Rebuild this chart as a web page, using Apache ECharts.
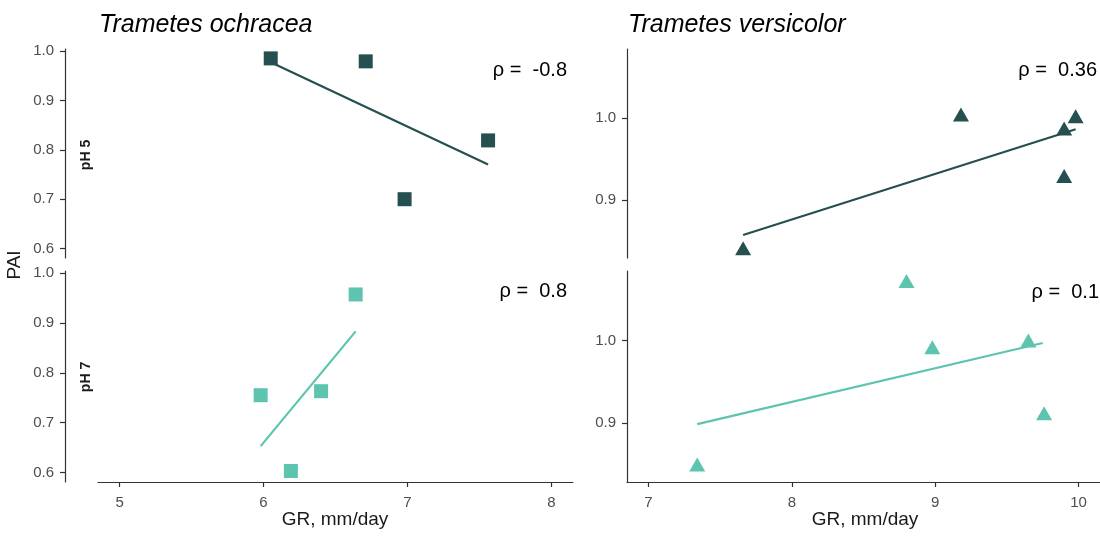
<!DOCTYPE html>
<html>
<head>
<meta charset="utf-8">
<script src="https://cdn.jsdelivr.net/npm/echarts@6/dist/echarts.min.js"></script>
<style>
  html, body { margin: 0; padding: 0; background: #fff; }
  #chart { width: 1100px; height: 536px; }
</style>
</head>
<body>
<div id="chart"></div>
<script>
// T. ochracea, GR vs PAI
const ochraceaGR5 = [6.05, 6.71, 6.98, 7.56];
const ochraceaPAI5 = [0.985, 0.979, 0.700, 0.819];
const ochraceaFit5 = [[6.05, 0.977], [7.56, 0.770]];
const ochraceaGR7 = [5.98, 6.19, 6.40, 6.64];
const ochraceaPAI7 = [0.755, 0.603, 0.763, 0.957];
const ochraceaFit7 = [[5.98, 0.653], [6.64, 0.883]];

// T. versicolor
const versicolorGR5 = [7.66, 9.18, 9.90, 9.98, 9.90];
const versicolorPAI5 = [0.841, 1.004, 0.987, 1.002, 0.929];
const versicolorFit5 = [[7.66, 0.857], [9.98, 0.986]];
const versicolorGR7 = [7.34, 8.80, 8.98, 9.65, 9.76];
const versicolorPAI7 = [0.850, 1.072, 0.992, 1.000, 0.912];
const versicolorFit7 = [[7.34, 0.899], [9.75, 0.997]];

const rhoLabels = ["ρ =  -0.8", "ρ =  0.8", "ρ =  0.36", "ρ =  0.1"];
const leftXTicks = [5, 6, 7, 8];
const rightXTicks = [7, 8, 9, 10];
const leftYTicks = [0.6, 0.7, 0.8, 0.9, 1.0];
const rightYTicks = [0.9, 1.0];

const dark = "#264f4f";
const teal = "#5cc4af";
const font = "Liberation Sans, Arial, sans-serif";

const chart = echarts.init(document.getElementById("chart"));

const zip = (xs, ys) => xs.map((x, i) => [x, ys[i]]);

function xAxis(idx, min, max, ticks, show) {
  return {
    type: "value", gridIndex: idx, min, max, show,
    axisLine: { show: true, onZero: false, lineStyle: { color: "#333", width: 1.2 } },
    axisTick: { show: true, length: 5, customValues: ticks, lineStyle: { color: "#333", width: 1.2 } },
    axisLabel: { customValues: ticks, color: "#4d4d4d", fontSize: 15, fontFamily: font, margin: 13 },
    splitLine: { show: false }
  };
}

function yAxis(idx, min, max, ticks, offset) {
  return {
    type: "value", gridIndex: idx, min, max, offset,
    axisLine: { show: true, onZero: false, lineStyle: { color: "#333", width: 1.2 } },
    axisTick: { show: true, length: 5, customValues: ticks, lineStyle: { color: "#333", width: 1.2 } },
    axisLabel: { customValues: ticks, color: "#4d4d4d", fontSize: 15, fontFamily: font,
                 margin: 11, formatter: v => v.toFixed(1) },
    splitLine: { show: false }
  };
}

function pts(idx, data, color, symbol, size) {
  return { type: "scatter", xAxisIndex: idx, yAxisIndex: idx, data, symbol,
           symbolSize: size, itemStyle: { color, opacity: 1 }, z: 3, silent: true };
}
function fit(idx, data, color) {
  return { type: "line", xAxisIndex: idx, yAxisIndex: idx, data, symbol: "none",
           lineStyle: { color, width: 2.2 }, z: 2, silent: true };
}

function txt(x, y, text, opts) {
  return { type: "text", x, y, style: Object.assign({ text, fill: "#000", font: "20px " + font }, opts) };
}

chart.setOption({
  animation: false,
  grid: [
    { left: 98, right: 527, top: 49, height: 209 },
    { left: 98, right: 527, top: 271, height: 211 },
    { left: 627, right: -4, top: 49, height: 209 },
    { left: 627, right: -4, top: 271, height: 211 }
  ],
  xAxis: [
    xAxis(0, 4.85, 8.15, leftXTicks, false),
    xAxis(1, 4.85, 8.15, leftXTicks, true),
    xAxis(2, 6.85, 10.15, rightXTicks, false),
    xAxis(3, 6.85, 10.15, rightXTicks, true)
  ],
  yAxis: [
    yAxis(0, 0.581, 1.004, leftYTicks, 33),
    yAxis(1, 0.581, 1.004, leftYTicks, 33),
    yAxis(2, 0.829, 1.084, rightYTicks, 0),
    yAxis(3, 0.829, 1.084, rightYTicks, 0)
  ],
  series: [
    fit(0, ochraceaFit5, dark),
    pts(0, zip(ochraceaGR5, ochraceaPAI5), dark, "rect", 14),
    fit(1, ochraceaFit7, teal),
    pts(1, zip(ochraceaGR7, ochraceaPAI7), teal, "rect", 14),
    fit(2, versicolorFit5, dark),
    pts(2, zip(versicolorGR5, versicolorPAI5), dark, "triangle", [16, 14]),
    fit(3, versicolorFit7, teal),
    pts(3, zip(versicolorGR7, versicolorPAI7), teal, "triangle", [16, 14])
  ],
  graphic: [
    txt(99, 25, "Trametes ochracea", { font: "italic 25px " + font, verticalAlign: "middle" }),
    txt(628, 25, "Trametes versicolor", { font: "italic 25px " + font, verticalAlign: "middle" }),
    txt(567, 70, rhoLabels[0], { align: "right", verticalAlign: "middle" }),
    txt(567, 291, rhoLabels[1], { align: "right", verticalAlign: "middle" }),
    txt(1097, 70, rhoLabels[2], { align: "right", verticalAlign: "middle" }),
    txt(1099, 292, rhoLabels[3], { align: "right", verticalAlign: "middle" }),
    txt(335, 520, "GR, mm/day", { font: "19px " + font, align: "center", verticalAlign: "middle", fill: "#1a1a1a" }),
    txt(865, 520, "GR, mm/day", { font: "19px " + font, align: "center", verticalAlign: "middle", fill: "#1a1a1a" }),
    { type: "text", x: 15, y: 265, rotation: Math.PI / 2,
      style: { text: "PAI", font: "19px " + font, fill: "#1a1a1a", align: "center", verticalAlign: "middle" } },
    { type: "text", x: 86, y: 155, rotation: Math.PI / 2,
      style: { text: "pH 5", font: "bold 14px " + font, fill: "#1a1a1a", align: "center", verticalAlign: "middle" } },
    { type: "text", x: 86, y: 377, rotation: Math.PI / 2,
      style: { text: "pH 7", font: "bold 14px " + font, fill: "#1a1a1a", align: "center", verticalAlign: "middle" } }
  ]
});
</script>
</body>
</html>
